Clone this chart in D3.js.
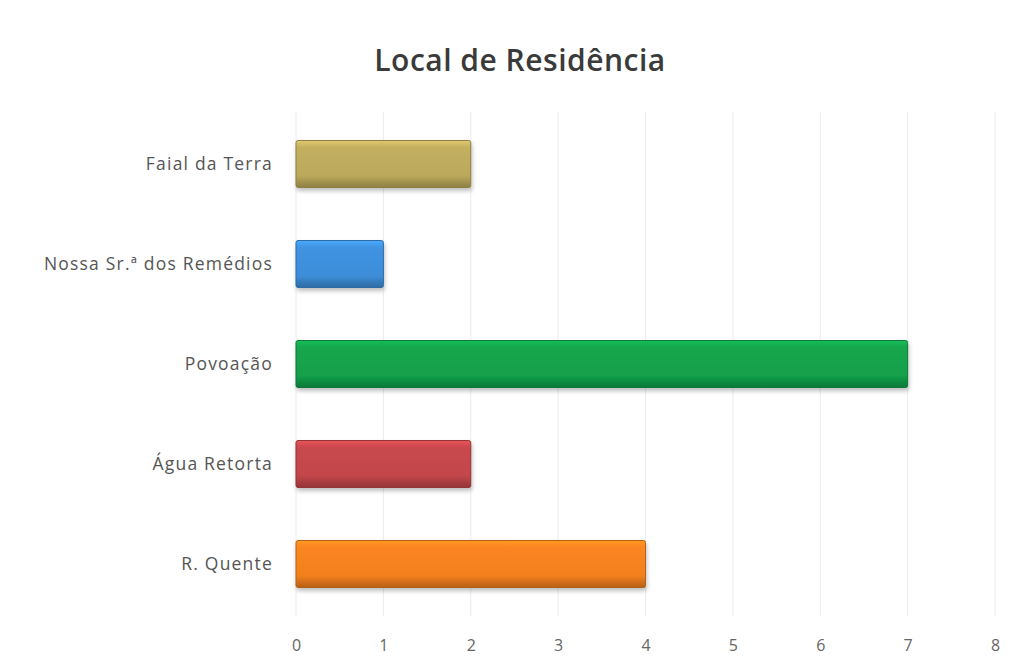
<!DOCTYPE html>
<html><head><meta charset="utf-8">
<script src="https://cdn.jsdelivr.net/npm/d3@7"></script>
<style>body{margin:0;background:#fff}svg{display:block}</style>
</head><body>
<script>
const categories = ["Faial da Terra","Nossa Sr.ª dos Remédios","Povoação","Água Retorta","R. Quente"];
const values = [2,1,7,2,4];
const colors = ["#bca95c","#3d8ed9","#12a04a","#c2464b","#f2801f"];
const ticks = [0,1,2,3,4,5,6,7,8];
const title = "Local de Residência";

const W=1019,H=668;
const svg=d3.select("body").append("svg").attr("width",W).attr("height",H);
const x=d3.scaleLinear().domain([0,8]).range([296,995]);
const y=d3.scaleBand().domain(categories).range([114,614]).paddingInner(0.53).paddingOuter(0.265);

const defs=svg.append("defs");
colors.forEach((c,i)=>{
  const g=defs.append("linearGradient").attr("id","g"+i).attr("x1",0).attr("y1",0).attr("x2",0).attr("y2",1);
  const base=d3.color(c);
  g.append("stop").attr("offset","0%").attr("stop-color",base.brighter(0.5));
  g.append("stop").attr("offset","15%").attr("stop-color",base.brighter(0.1));
  g.append("stop").attr("offset","75%").attr("stop-color",base);
  g.append("stop").attr("offset","100%").attr("stop-color",base.darker(0.8));
});
const sh=defs.append("filter").attr("id","sh").attr("x","-5%").attr("y","-20%").attr("width","115%").attr("height","160%");
sh.append("feDropShadow").attr("dx",1).attr("dy",3).attr("stdDeviation",2).attr("flood-color","#000").attr("flood-opacity",0.25);

// gridlines
svg.append("g").selectAll("line").data(ticks).join("line")
  .attr("x1",d=>x(d)).attr("x2",d=>x(d)).attr("y1",112).attr("y2",616)
  .attr("stroke","#ececec").attr("stroke-width",1);

// bars
svg.append("g").selectAll("rect").data(categories).join("rect")
  .attr("x",x(0)).attr("y",d=>y(d)).attr("height",y.bandwidth())
  .attr("width",(d,i)=>x(values[i])-x(0))
  .attr("fill",(d,i)=>"url(#g"+i+")")
  .attr("stroke",(d,i)=>d3.color(colors[i]).darker(0.8)).attr("stroke-width",1)
  .attr("rx",2).attr("filter","url(#sh)");

// x axis labels
const xa=svg.append("g").attr("transform","translate(0,637)").call(d3.axisBottom(x).tickValues(ticks).tickSize(0).tickFormat(d3.format("d")));
xa.select(".domain").remove();
xa.selectAll("text").attr("font-family","Open Sans, sans-serif").attr("font-size",16).attr("fill","#666");

// y axis labels
const ya=svg.append("g").attr("transform","translate(282,0)").call(d3.axisLeft(y).tickSize(0).tickPadding(9));
ya.select(".domain").remove();
ya.selectAll("text").attr("font-family","Open Sans, sans-serif").attr("font-size",17.5).attr("letter-spacing","1.2px").attr("fill","#555");

svg.append("text").attr("x",520).attr("y",71).attr("text-anchor","middle")
  .attr("font-family","Open Sans, sans-serif").attr("font-weight",600).attr("font-size",30).attr("letter-spacing","0.5px").attr("fill","#3a3a3a").text(title);
</script>
</body></html>
